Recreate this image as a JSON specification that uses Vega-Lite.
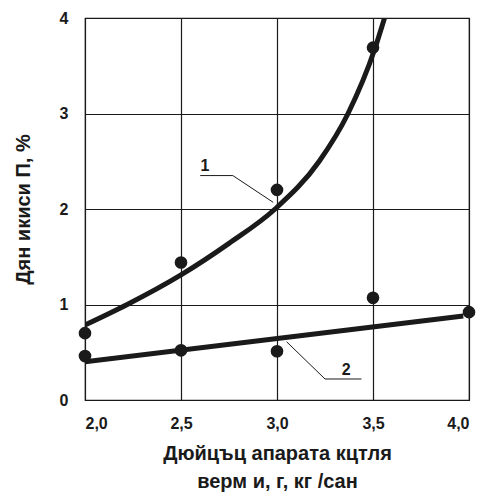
{
  "$schema": "https://vega.github.io/schema/vega-lite/v6.json",
  "width": 384,
  "height": 382,
  "autosize": {"type": "none"},
  "padding": {"left": 85, "top": 18, "right": 14, "bottom": 97},
  "background": "white",
  "config": {
    "font": "Liberation Sans",
    "view": {"stroke": "#1a1a1a", "strokeWidth": 1.2},
    "axis": {
      "grid": true, "gridColor": "#1a1a1a", "gridOpacity": 1, "gridWidth": 1.2,
      "domain": false, "ticks": false,
      "labelFont": "Liberation Sans", "labelFontSize": 16, "labelFontWeight": "bold", "labelColor": "#1a1a1a",
      "titleFont": "Liberation Sans", "titleFontSize": 20, "titleFontWeight": "bold", "titleColor": "#1a1a1a"
    }
  },
  "datasets": {
    "points": [
      {"x": 2.0, "y": 0.70, "s": "1"},
      {"x": 2.5, "y": 1.44, "s": "1"},
      {"x": 3.0, "y": 2.20, "s": "1"},
      {"x": 3.5, "y": 3.69, "s": "1"},
      {"x": 2.0, "y": 0.46, "s": "2"},
      {"x": 2.5, "y": 0.52, "s": "2"},
      {"x": 3.0, "y": 0.51, "s": "2"},
      {"x": 3.5, "y": 1.07, "s": "2"},
      {"x": 4.0, "y": 0.92, "s": "2"}
    ],
    "curves": [
      {"x": 2.0, "y": 0.785, "s": "1"},
      {"x": 2.22, "y": 1.0, "s": "1"},
      {"x": 2.5, "y": 1.31, "s": "1"},
      {"x": 2.75, "y": 1.64, "s": "1"},
      {"x": 2.99, "y": 2.0, "s": "1"},
      {"x": 3.22, "y": 2.5, "s": "1"},
      {"x": 3.37, "y": 3.0, "s": "1"},
      {"x": 3.51, "y": 3.68, "s": "1"},
      {"x": 3.56, "y": 4.0, "s": "1"},
      {"x": 2.0, "y": 0.40, "s": "2"},
      {"x": 3.97, "y": 0.88, "s": "2"}
    ],
    "leaders": [
      {"x": 2.6, "y": 2.35, "k": "1", "o": 1},
      {"x": 2.77, "y": 2.35, "k": "1", "o": 2},
      {"x": 2.98, "y": 2.07, "k": "1", "o": 3},
      {"x": 3.05, "y": 0.61, "k": "2", "o": 1},
      {"x": 3.25, "y": 0.22, "k": "2", "o": 2},
      {"x": 3.44, "y": 0.22, "k": "2", "o": 3}
    ],
    "labels": [
      {"x": 2.625, "y": 2.45, "t": "1"},
      {"x": 3.36, "y": 0.31, "t": "2"}
    ]
  },
  "encoding": {
    "x": {
      "field": "x", "type": "quantitative",
      "scale": {"domain": [2, 4], "nice": false, "zero": false},
      "axis": {
        "values": [2, 2.5, 3, 3.5, 4],
        "labelExpr": "replace(format(datum.value, '.1f'), '.', ',')",
        "labelPadding": 15,
        "title": ["Дюйцъц апарата кцтля", "верм и, г, кг /сан"],
        "titlePadding": 12,
        "titleLineHeight": 28
      }
    },
    "y": {
      "field": "y", "type": "quantitative",
      "scale": {"domain": [0, 4], "nice": false},
      "axis": {
        "values": [0, 1, 2, 3, 4],
        "format": "d",
        "labelPadding": 17,
        "title": "Дян икиси П, %",
        "titlePadding": 26
      }
    }
  },
  "layer": [
    {
      "data": {"name": "leaders"},
      "mark": {"type": "line", "color": "#1a1a1a", "strokeWidth": 1, "clip": true},
      "encoding": {"detail": {"field": "k"}, "order": {"field": "o"}}
    },
    {
      "data": {"name": "curves"},
      "mark": {"type": "line", "color": "#1a1a1a", "strokeWidth": 5, "interpolate": "monotone", "clip": true},
      "encoding": {"detail": {"field": "s"}}
    },
    {
      "data": {"name": "points"},
      "mark": {"type": "circle", "color": "#1a1a1a", "opacity": 1, "size": 160, "clip": false}
    },
    {
      "data": {"name": "labels"},
      "mark": {"type": "text", "font": "Liberation Sans", "fontSize": 16, "fontWeight": "bold", "color": "#1a1a1a"},
      "encoding": {"text": {"field": "t"}}
    }
  ]
}
